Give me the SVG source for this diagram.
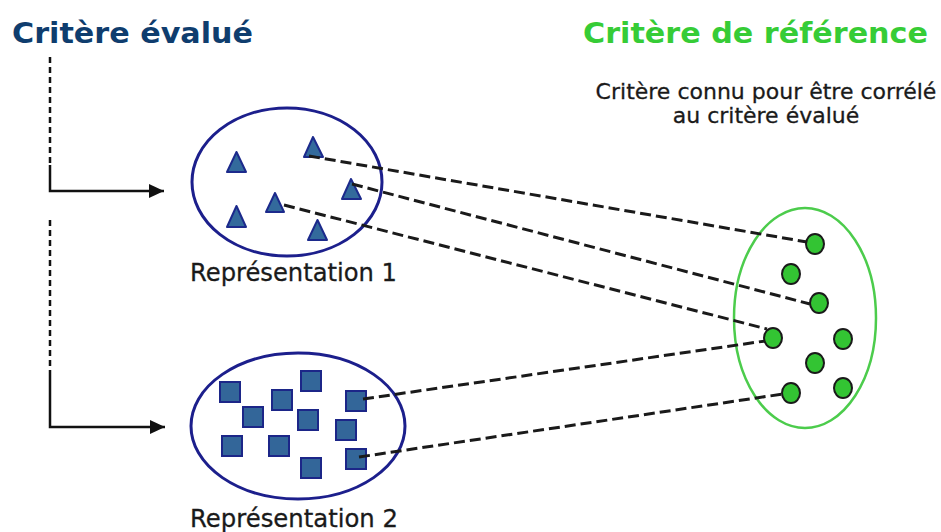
<svg xmlns="http://www.w3.org/2000/svg" width="941" height="532" viewBox="0 0 941 532">
<defs>
<style>
.title{font-family:"DejaVu Sans",Verdana,sans-serif;font-weight:bold;font-size:29px}
.lbl{font-family:"DejaVu Sans",Verdana,sans-serif;font-size:24px;fill:#1a1a1a;stroke:#1a1a1a;stroke-width:0.3}
.note{font-family:"DejaVu Sans",Verdana,sans-serif;font-size:22px;fill:#1a1a1a;stroke:#1a1a1a;stroke-width:0.3;text-anchor:middle}
.set{fill:none;stroke:#1c1f8c;stroke-width:3}
.ref{fill:none;stroke:#4ccc4c;stroke-width:2.5}
.tri{fill:#336a9c;stroke:#1c2a8c;stroke-width:2;stroke-linejoin:round}
.sq{fill:#336699;stroke:#1c2688;stroke-width:2}
.dot{fill:#33c433;stroke:#1a1a1a;stroke-width:2}
.dash{fill:none;stroke:#1a1a1a;stroke-width:3;stroke-dasharray:11 5}
.vd{fill:none;stroke:#111;stroke-width:2.5;stroke-dasharray:6 4}
.solid{fill:none;stroke:#111;stroke-width:2.5}
</style>
<marker id="arr" markerUnits="userSpaceOnUse" markerWidth="16" markerHeight="14" refX="15" refY="7" orient="auto">
<path d="M0,0 L15,7 L0,14 z" fill="#111"/>
</marker>
</defs>
<rect width="941" height="532" fill="#fff"/>

<g id="title-evalue">
<text class="title" x="12" y="43" fill="#0f3d6e" textLength="241" lengthAdjust="spacingAndGlyphs">Critère évalué</text>
</g>
<g id="title-reference">
<text class="title" x="583" y="43" fill="#36cc36" textLength="345" lengthAdjust="spacingAndGlyphs">Critère de référence</text>
<text class="note" x="766" y="99">Critère connu pour être corrélé</text>
<text class="note" x="766" y="123">au critère évalué</text>
</g>

<g id="representation1">
<ellipse class="set" cx="287" cy="182" rx="95" ry="74"/>
<polygon class="tri" points="236.5,152 227,172 246,172"/>
<polygon class="tri" points="313,137 304,157 323,157"/>
<polygon class="tri" points="351,179 342,199 361,199"/>
<polygon class="tri" points="275,193 266,212 284,212"/>
<polygon class="tri" points="236.5,206 227,227 246,227"/>
<polygon class="tri" points="317.5,220 308,240 327,240"/>
<text class="lbl" x="190" y="281" textLength="207" lengthAdjust="spacingAndGlyphs">Représentation 1</text>
</g>

<g id="representation2">
<ellipse class="set" cx="298" cy="426" rx="107" ry="73"/>
<rect class="sq" x="220" y="382" width="20" height="20"/>
<rect class="sq" x="272" y="390" width="20" height="20"/>
<rect class="sq" x="301" y="371" width="20" height="20"/>
<rect class="sq" x="346" y="391" width="20" height="20"/>
<rect class="sq" x="243" y="407" width="20" height="20"/>
<rect class="sq" x="298" y="410" width="20" height="20"/>
<rect class="sq" x="336" y="420" width="20" height="20"/>
<rect class="sq" x="222" y="436" width="20" height="20"/>
<rect class="sq" x="269" y="436" width="20" height="20"/>
<rect class="sq" x="301" y="458" width="20" height="20"/>
<rect class="sq" x="346" y="449" width="20" height="20"/>
<text class="lbl" x="190" y="527" textLength="208" lengthAdjust="spacingAndGlyphs">Représentation 2</text>
</g>

<g id="reference-set">
<ellipse class="ref" cx="805" cy="318" rx="71" ry="110"/>
<ellipse class="dot" cx="815" cy="244" rx="9" ry="10"/>
<ellipse class="dot" cx="791" cy="274" rx="9" ry="10"/>
<ellipse class="dot" cx="819" cy="303" rx="9" ry="10"/>
<ellipse class="dot" cx="773" cy="338" rx="9" ry="10"/>
<ellipse class="dot" cx="843" cy="339" rx="9" ry="10"/>
<ellipse class="dot" cx="815" cy="363" rx="9" ry="10"/>
<ellipse class="dot" cx="843" cy="388" rx="9" ry="10"/>
<ellipse class="dot" cx="791" cy="393" rx="9" ry="10"/>
</g>

<g id="connectors">
<line class="vd" x1="50" y1="57" x2="50" y2="165"/>
<polyline class="solid" points="50,165 50,191 164,191" marker-end="url(#arr)"/>
<line class="vd" x1="50" y1="220" x2="50" y2="372"/>
<polyline class="solid" points="50,372 50,427 165,427" marker-end="url(#arr)"/>
<line class="dash" x1="309" y1="156" x2="807" y2="242"/>
<line class="dash" x1="352" y1="184" x2="810" y2="304"/>
<line class="dash" x1="284" y1="205" x2="767" y2="329"/>
<line class="dash" x1="363" y1="399" x2="765" y2="341"/>
<line class="dash" x1="359" y1="457" x2="783" y2="394"/>
</g>
</svg>
